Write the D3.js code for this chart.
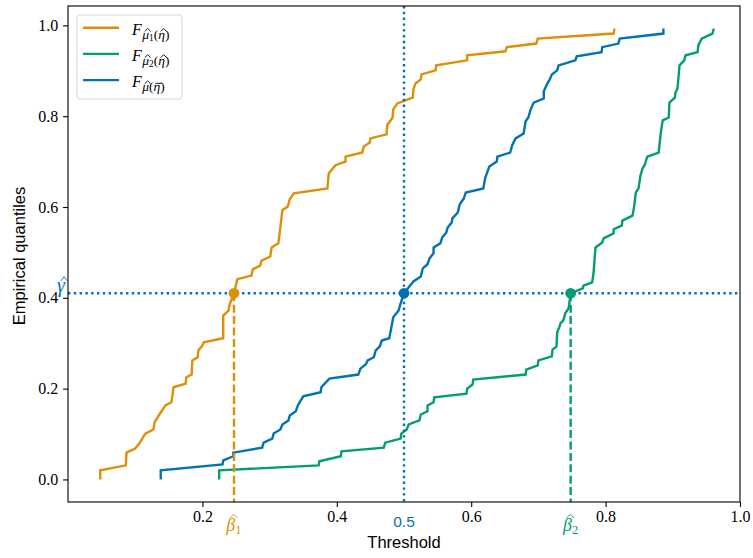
<!DOCTYPE html>
<html>
<head>
<meta charset="utf-8">
<script src="https://cdn.jsdelivr.net/npm/d3@7"></script>
<style>
body { margin: 0; background: #fff; }
</style>
</head>
<body>
<div class="content"></div>
<script>
var size = {width: 753, height: 558};
var padding = {left: 68, right: 13, top: 6, bottom: 56};

var blue = "#0173b2", orange = "#de8f05", green = "#029e73";

var xTicks = [0.2, 0.4, 0.6, 0.8, 1.0];
var yTicks = [0.0, 0.2, 0.4, 0.6, 0.8, 1.0];
var gammaHat = 0.41;
var threshold = 0.5;
var beta1 = 0.247, beta2 = 0.748;

// empirical quantile curves, [threshold, quantile]
var curveMu1 = [[0.048,0.0],[0.048,0.02],[0.086,0.031],[0.087,0.059],[0.100,0.068],[0.106,0.079],[0.115,0.101],[0.127,0.110],[0.129,0.126],[0.136,0.143],[0.145,0.163],[0.154,0.170],[0.157,0.203],[0.175,0.211],[0.176,0.225],[0.184,0.231],[0.185,0.262],[0.193,0.269],[0.194,0.284],[0.200,0.295],[0.202,0.302],[0.231,0.311],[0.231,0.361],[0.239,0.372],[0.240,0.383],[0.247,0.410],[0.252,0.441],[0.273,0.449],[0.275,0.463],[0.286,0.471],[0.288,0.482],[0.301,0.491],[0.303,0.511],[0.313,0.520],[0.316,0.555],[0.319,0.593],[0.327,0.601],[0.330,0.617],[0.336,0.630],[0.386,0.641],[0.388,0.674],[0.398,0.692],[0.413,0.700],[0.413,0.711],[0.438,0.720],[0.440,0.733],[0.449,0.742],[0.450,0.751],[0.474,0.760],[0.475,0.780],[0.483,0.797],[0.484,0.815],[0.490,0.828],[0.513,0.841],[0.514,0.859],[0.517,0.872],[0.525,0.881],[0.526,0.892],[0.547,0.901],[0.548,0.912],[0.594,0.923],[0.594,0.934],[0.651,0.943],[0.653,0.952],[0.697,0.960],[0.699,0.971],[0.812,0.982],[0.813,0.993]];

var curveMu2 = [[0.225,0.0],[0.225,0.02],[0.373,0.031],[0.374,0.040],[0.406,0.051],[0.407,0.062],[0.470,0.070],[0.472,0.081],[0.495,0.090],[0.496,0.101],[0.504,0.110],[0.507,0.121],[0.523,0.130],[0.525,0.143],[0.535,0.150],[0.535,0.163],[0.544,0.170],[0.545,0.181],[0.593,0.189],[0.594,0.200],[0.602,0.209],[0.603,0.220],[0.681,0.231],[0.682,0.242],[0.699,0.251],[0.700,0.262],[0.720,0.271],[0.721,0.286],[0.727,0.293],[0.728,0.324],[0.731,0.335],[0.733,0.344],[0.737,0.350],[0.740,0.366],[0.745,0.377],[0.748,0.410],[0.766,0.421],[0.767,0.427],[0.780,0.434],[0.782,0.454],[0.785,0.511],[0.795,0.522],[0.797,0.531],[0.812,0.542],[0.812,0.551],[0.824,0.559],[0.825,0.570],[0.840,0.581],[0.842,0.597],[0.845,0.632],[0.849,0.641],[0.852,0.670],[0.855,0.685],[0.858,0.692],[0.862,0.711],[0.879,0.720],[0.882,0.762],[0.885,0.791],[0.894,0.797],[0.895,0.830],[0.903,0.841],[0.904,0.852],[0.907,0.861],[0.910,0.912],[0.917,0.923],[0.919,0.934],[0.937,0.941],[0.938,0.956],[0.943,0.971],[0.959,0.982],[0.961,0.993]];

var curveMuBar = [[0.138,0.0],[0.138,0.02],[0.230,0.033],[0.231,0.042],[0.246,0.051],[0.246,0.059],[0.289,0.070],[0.291,0.081],[0.304,0.090],[0.306,0.101],[0.316,0.110],[0.319,0.121],[0.328,0.130],[0.330,0.141],[0.339,0.150],[0.342,0.163],[0.350,0.183],[0.376,0.192],[0.377,0.203],[0.389,0.222],[0.432,0.231],[0.435,0.244],[0.443,0.253],[0.446,0.262],[0.455,0.269],[0.458,0.284],[0.464,0.293],[0.467,0.306],[0.478,0.311],[0.481,0.333],[0.484,0.357],[0.492,0.372],[0.495,0.388],[0.500,0.410],[0.514,0.436],[0.525,0.447],[0.528,0.465],[0.535,0.474],[0.538,0.487],[0.544,0.498],[0.544,0.511],[0.554,0.520],[0.557,0.533],[0.563,0.544],[0.565,0.555],[0.571,0.566],[0.572,0.575],[0.580,0.588],[0.583,0.606],[0.589,0.619],[0.592,0.632],[0.618,0.641],[0.621,0.665],[0.627,0.689],[0.638,0.700],[0.639,0.711],[0.658,0.720],[0.661,0.736],[0.666,0.751],[0.678,0.762],[0.681,0.789],[0.685,0.797],[0.688,0.813],[0.693,0.830],[0.708,0.839],[0.708,0.855],[0.714,0.874],[0.717,0.881],[0.720,0.892],[0.728,0.901],[0.730,0.912],[0.755,0.923],[0.757,0.932],[0.794,0.941],[0.795,0.952],[0.819,0.960],[0.821,0.971],[0.886,0.982],[0.886,0.993]];

var legendSubs = ["1", "2", ""];
var legendEta = ["hat", "hat", "bar"];
var legendColors = [orange, green, blue];

var W = size.width - padding.left - padding.right;
var H = size.height - padding.top - padding.bottom;
var serif = "'Liberation Serif', serif";
var sans = "'Liberation Sans', Arial, sans-serif";
var lw = 2.4;

var svg = d3.select('.content')
    .append('svg')
    .attr('width', size.width)
    .attr('height', size.height);

var plot = svg.append('g')
    .attr('transform', 'translate(' + padding.left + ',' + padding.top + ')');

var xScale = d3.scaleLinear().domain([0, 1]).range([0, W]);
var yScale = d3.scaleLinear().domain([-0.0497, 1.0427]).range([H, 0]);

// axes
var xAxis = d3.axisBottom(xScale).tickValues(xTicks).tickSize(4.9).tickPadding(4.9)
    .tickFormat(d3.format('.1f'));
var yAxis = d3.axisLeft(yScale).tickValues(yTicks).tickSize(4.9).tickPadding(4.9)
    .tickFormat(d3.format('.1f'));
var xg = plot.append('g').attr('transform', 'translate(0,' + H + ')').call(xAxis);
var yg = plot.append('g').call(yAxis);
[xg, yg].forEach(function(g) {
    g.select('.domain').remove();
    g.selectAll('line').attr('stroke', '#000').attr('stroke-width', 1.1);
    g.selectAll('text').attr('font-family', serif).attr('font-size', 16).attr('fill', '#000');
});
xg.selectAll('text').attr('dy', null).attr('y', 19.5);

// curves
var line = d3.line()
    .x(function(d) { return xScale(d[0]); })
    .y(function(d) { return yScale(d[1]); });
var curves = [[curveMu1, orange], [curveMu2, green], [curveMuBar, blue]];
curves.forEach(function(c) {
    plot.append('path')
        .attr('d', line(c[0]))
        .attr('fill', 'none')
        .attr('stroke', c[1])
        .attr('stroke-width', lw)
        .attr('stroke-linejoin', 'miter');
});

// reference lines
plot.append('line')
    .attr('x1', 0).attr('x2', W)
    .attr('y1', yScale(gammaHat)).attr('y2', yScale(gammaHat))
    .attr('stroke', blue).attr('stroke-width', lw).attr('stroke-dasharray', '2.4,3.4');
plot.append('line')
    .attr('x1', xScale(threshold)).attr('x2', xScale(threshold))
    .attr('y1', 0).attr('y2', H)
    .attr('stroke', blue).attr('stroke-width', lw).attr('stroke-dasharray', '2.4,3.4');
[[beta1, orange], [beta2, green]].forEach(function(b) {
    plot.append('line')
        .attr('x1', xScale(b[0])).attr('x2', xScale(b[0]))
        .attr('y1', yScale(gammaHat)).attr('y2', H)
        .attr('stroke', b[1]).attr('stroke-width', lw).attr('stroke-dasharray', '8,3.4');
});

// crossing markers
[[beta1, orange], [threshold, blue], [beta2, green]].forEach(function(m) {
    plot.append('circle')
        .attr('cx', xScale(m[0])).attr('cy', yScale(gammaHat))
        .attr('r', 5.4).attr('fill', m[1]);
});

// frame
plot.append('rect')
    .attr('width', W).attr('height', H)
    .attr('fill', 'none').attr('stroke', '#000').attr('stroke-width', 1.1);

// hats and bars over single characters of a text element
function mark(text, idx, kind, fs, color, italic) {
    var node = text.node();
    var ext = node.getExtentOfChar(idx);
    var base = node.getStartPositionOfChar(idx).y;
    var slant = italic ? 0.12 * fs : 0;
    var x0 = ext.x + 0.06 * fs + slant, x1 = ext.x + ext.width + slant;
    var d;
    if (kind === 'wide') {
        var yb = base - 0.72 * fs, yt = yb - 0.2 * fs;
        d = 'M' + x0 + ',' + yb + 'L' + (x0 + x1) / 2 + ',' + yt + 'L' + x1 + ',' + yb;
    } else if (kind === 'hat') {
        var yb2 = base - 0.56 * fs, yt2 = yb2 - 0.22 * fs;
        d = 'M' + x0 + ',' + yb2 + 'L' + (x0 + x1) / 2 + ',' + yt2 + 'L' + x1 + ',' + yb2;
    } else {
        var yl = base - 0.6 * fs;
        d = 'M' + (x0 - 0.05 * fs) + ',' + yl + 'L' + x1 + ',' + yl;
    }
    d3.select(node.parentNode).append('path')
        .attr('d', d).attr('fill', 'none').attr('stroke', color)
        .attr('stroke-width', 0.9);
}

// special tick labels
var xl = svg.append('g');
var b1 = xl.append('text')
    .attr('x', padding.left + xScale(beta1)).attr('y', 531)
    .attr('text-anchor', 'middle').attr('font-family', serif).attr('fill', orange);
b1.append('tspan').attr('font-style', 'italic').attr('font-size', 18).text('β');
b1.append('tspan').attr('font-size', 12.5).attr('dy', 3).text('1');
mark(b1, 0, 'wide', 18, orange, true);

var b2 = xl.append('text')
    .attr('x', padding.left + xScale(beta2)).attr('y', 531)
    .attr('text-anchor', 'middle').attr('font-family', serif).attr('fill', green);
b2.append('tspan').attr('font-style', 'italic').attr('font-size', 18).text('β');
b2.append('tspan').attr('font-size', 12.5).attr('dy', 3).text('2');
mark(b2, 0, 'wide', 18, green, true);

xl.append('text')
    .attr('x', padding.left + xScale(threshold)).attr('y', 527)
    .attr('text-anchor', 'middle').attr('font-family', sans).attr('font-size', 15.5)
    .attr('fill', blue).text(d3.format('.1f')(threshold));

var gl = xl.append('text')
    .attr('x', 65).attr('y', padding.top + yScale(gammaHat) - 1)
    .attr('text-anchor', 'end').attr('font-family', serif).attr('font-style', 'italic')
    .attr('font-size', 20).attr('fill', blue).text('γ');
mark(gl, 0, 'hat', 20, blue, true);

// axis titles
svg.append('text')
    .attr('x', padding.left + W / 2).attr('y', 548)
    .attr('text-anchor', 'middle').attr('font-family', sans).attr('font-size', 16.5)
    .text('Threshold');
svg.append('text')
    .attr('transform', 'translate(25,' + (padding.top + H / 2 + 2) + ') rotate(-90)')
    .attr('text-anchor', 'middle').attr('font-family', sans).attr('font-size', 16.5)
    .text('Empirical quantiles');

// legend
var legend = svg.append('g').attr('transform', 'translate(77,15)');
legend.append('rect')
    .attr('width', 105).attr('height', 84).attr('rx', 3)
    .attr('fill', '#fff').attr('fill-opacity', 0.8)
    .attr('stroke', '#d6d6d6').attr('stroke-width', 1);
legendSubs.forEach(function(sub, i) {
    var y = 12.7 + i * 26.2;
    legend.append('line')
        .attr('x1', 6).attr('x2', 42).attr('y1', y).attr('y2', y)
        .attr('stroke', legendColors[i]).attr('stroke-width', lw);
    var t = legend.append('text')
        .attr('x', 55).attr('y', y + 7.3)
        .attr('font-family', serif).attr('font-size', 16).attr('fill', '#000');
    t.append('tspan').attr('font-style', 'italic').text('F');
    t.append('tspan').attr('font-style', 'italic').attr('font-size', 13.5).attr('dy', 4).attr('dx', 0.5).text('μ');
    var n;
    if (sub) {
        t.append('tspan').attr('font-size', 9.5).attr('dy', 1.5).text(sub);
        t.append('tspan').attr('font-size', 13.5).attr('dy', -1.5).text('(');
        n = 4;
    } else {
        t.append('tspan').attr('font-size', 13.5).text('(');
        n = 3;
    }
    t.append('tspan').attr('font-style', 'italic').attr('font-size', 13.5).text('η');
    t.append('tspan').attr('font-size', 13.5).text(')');
    mark(t, 1, 'hat', 13.5, '#000', true);
    mark(t, n, legendEta[i], 13.5, '#000', true);
});
</script>
</body>
</html>
